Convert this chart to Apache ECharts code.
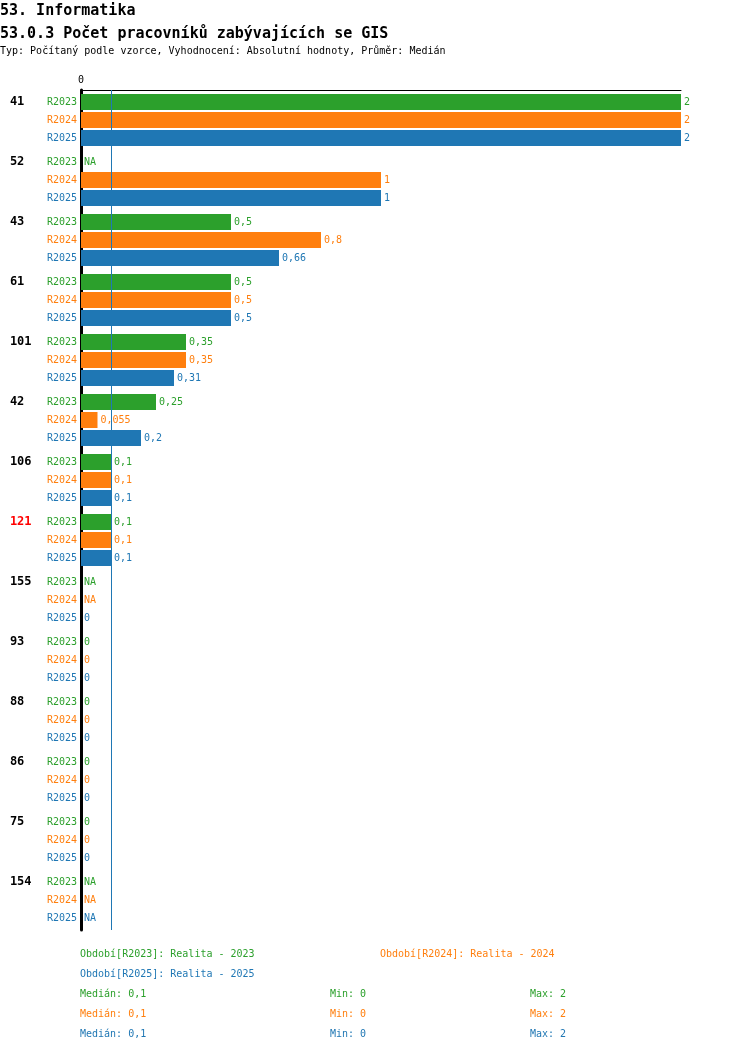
<!DOCTYPE html>
<html lang="cs">

<head>
    <meta charset="UTF-8">
    <title>53.0.3 Počet pracovníků zabývajících se GIS</title>
    <style>
        html,
        body {
            margin: 0;
            padding: 0;
            background: #fff;
        }
    </style>
</head>

<body>
    <div id="main" style="width: 750px;height:1052px;"></div>
    <script src="https://cdn.jsdelivr.net/npm/echarts@6/dist/echarts.min.js"></script>
    <script type="text/javascript">
        var groups = ['41', '52', '43', '61', '101', '42', '106', '121', '155', '93', '88', '86', '75', '154'];
        var redGroups = ['121'];
        var periods = ['R2023', 'R2024', 'R2025'];
        var periodNames = ['Realita - 2023', 'Realita - 2024', 'Realita - 2025'];
        var colors = ['#2ca02c', '#ff7f0e', '#1f77b4'];
        // null = NA
        var r2023 = [2, null, 0.5, 0.5, 0.35, 0.25, 0.1, 0.1, null, 0, 0, 0, 0, null];
        var r2024 = [2, 1, 0.8, 0.5, 0.35, 0.055, 0.1, 0.1, null, 0, 0, 0, 0, null];
        var r2025 = [2, 1, 0.66, 0.5, 0.31, 0.2, 0.1, 0.1, 0, 0, 0, 0, 0, null];
        var values = [r2023, r2024, r2025];

        var font = '"DejaVu Sans Mono", "Liberation Mono", monospace';

        function fmt(v) {
            return String(v).replace('.', ',');
        }

        function median(arr) {
            var a = arr.filter(function (v) { return v !== null; }).sort(function (x, y) { return x - y; });
            var m = Math.floor(a.length / 2);
            return a.length % 2 ? a[m] : (a[m - 1] + a[m]) / 2;
        }

        function stats(arr) {
            var a = arr.filter(function (v) { return v !== null; });
            return { med: median(arr), min: Math.min.apply(null, a), max: Math.max.apply(null, a) };
        }

        var myChart = echarts.init(document.getElementById('main'));

        var series = periods.map(function (p, i) {
            var raw = values[i];
            var s = {
                name: p,
                type: 'bar',
                barWidth: 16,
                barGap: '12.5%',
                itemStyle: { color: colors[i] },
                label: {
                    show: true,
                    position: 'right',
                    distance: 3,
                    color: colors[i],
                    fontFamily: font,
                    fontSize: 10,
                    formatter: function (prm) {
                        var v = raw[prm.dataIndex];
                        return v === null ? 'NA' : fmt(v);
                    }
                },
                data: raw.map(function (v) { return v === null ? 0 : v; })
            };
            if (i === 2) {
                // median line
                s.markLine = {
                    silent: true,
                    symbol: 'none',
                    label: { show: false },
                    lineStyle: { color: '#1f77b4', width: 1, type: 'solid', opacity: 1 },
                    data: [{ xAxis: median(raw) }]
                };
            }
            return s;
        });

        var graphics = [];
        // legend of periods
        var legendPos = [[80, 954], [380, 954], [80, 974]];
        periods.forEach(function (p, i) {
            graphics.push({
                type: 'text', left: legendPos[i][0], top: legendPos[i][1] - 5,
                style: { text: 'Období[' + p + ']: ' + periodNames[i], fill: colors[i], font: '10px ' + font }
            });
        });
        // stats rows
        values.forEach(function (arr, i) {
            var st = stats(arr);
            var y = 994 + i * 20 - 5;
            graphics.push({ type: 'text', left: 80, top: y, style: { text: 'Medián: ' + fmt(st.med), fill: colors[i], font: '10px ' + font } });
            graphics.push({ type: 'text', left: 330, top: y, style: { text: 'Min: ' + fmt(st.min), fill: colors[i], font: '10px ' + font } });
            graphics.push({ type: 'text', left: 530, top: y, style: { text: 'Max: ' + fmt(st.max), fill: colors[i], font: '10px ' + font } });
        });

        var option = {
            animation: false,
            backgroundColor: '#fff',
            title: [{
                text: '53. Informatika',
                left: 0, top: 4, padding: 0,
                textStyle: { fontFamily: font, fontSize: 15, fontWeight: 'bold', color: '#000' }
            }, {
                text: '53.0.3 Počet pracovníků zabývajících se GIS',
                left: 0, top: 27, padding: 0,
                textStyle: { fontFamily: font, fontSize: 15, fontWeight: 'bold', color: '#000' }
            }, {
                text: 'Typ: Počítaný podle vzorce, Vyhodnocení: Absolutní hodnoty, Průměr: Medián',
                left: 0, top: 46, padding: 0,
                textStyle: { fontFamily: font, fontSize: 10, fontWeight: 'normal', color: '#000' }
            }],
            grid: {
                left: 81,
                right: 69,
                top: 90,
                height: 840,
                containLabel: false
            },
            xAxis: {
                type: 'value',
                position: 'top',
                min: 0,
                max: 2,
                interval: 2,
                splitLine: { show: false },
                axisTick: { show: false },
                axisLine: { show: true, lineStyle: { color: '#000', width: 1 } },
                axisLabel: {
                    showMaxLabel: false,
                    margin: 5,
                    color: '#000',
                    fontFamily: font,
                    fontSize: 10,
                    formatter: function (v) { return fmt(v); }
                }
            },
            yAxis: {
                type: 'category',
                inverse: true,
                data: groups,
                axisTick: { show: false },
                axisLine: { show: true, lineStyle: { color: '#000', width: 3 } },
                axisLabel: {
                    margin: 4,
                    align: 'right',
                    formatter: function (g) {
                        var gs = redGroups.indexOf(g) >= 0 ? 'r' : 'g';
                        return '{' + gs + '|' + g + '}{a|' + periods[0] + '}\n{b|' + periods[1] + '}\n{c|' + periods[2] + '}';
                    },
                    rich: {
                        g: { width: 37, align: 'left', fontFamily: font, fontSize: 12, fontWeight: 'bold', color: '#000', lineHeight: 18 },
                        r: { width: 37, align: 'left', fontFamily: font, fontSize: 12, fontWeight: 'bold', color: '#ff0000', lineHeight: 18 },
                        a: { fontFamily: font, fontSize: 10, color: colors[0], lineHeight: 18 },
                        b: { fontFamily: font, fontSize: 10, color: colors[1], lineHeight: 18 },
                        c: { fontFamily: font, fontSize: 10, color: colors[2], lineHeight: 18 }
                    }
                }
            },
            series: series,
            graphic: graphics
        };
        myChart.setOption(option);
    </script>
</body>

</html>
